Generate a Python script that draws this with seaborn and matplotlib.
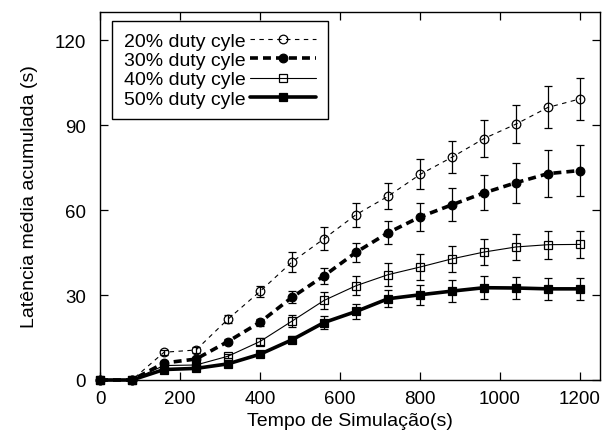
import matplotlib
matplotlib.use("Agg")
import matplotlib.pyplot as plt
import seaborn as sns
import pandas as pd

# ---- data ----
tempo = [0, 80, 160, 240, 320, 400, 480, 560, 640, 720, 800, 880, 960, 1040, 1120, 1200]
labels = ["20% duty cyle", "30% duty cyle", "40% duty cyle", "50% duty cyle"]
dc20 = [0, 0, 9.8, 10.6, 21.5, 31.3, 41.7, 49.9, 58.4, 64.9, 72.6, 78.7, 85.3, 90.4, 96.3, 99.3]
dc30 = [0, 0, 6.0, 7.4, 13.6, 20.4, 29.2, 36.8, 45.1, 52.0, 57.6, 61.9, 66.1, 69.7, 72.9, 74.0]
dc40 = [0, 0, 5.1, 5.3, 8.4, 13.6, 20.8, 28.1, 33.3, 37.2, 39.9, 42.8, 45.2, 47.0, 47.8, 47.9]
dc50 = [0, 0, 3.7, 4.1, 5.7, 9.1, 14.2, 20.3, 24.2, 28.7, 30.1, 31.4, 32.6, 32.5, 32.2, 32.2]
err20 = [0, 0, 0.8, 1.0, 1.3, 1.9, 3.4, 4.1, 4.3, 4.6, 5.3, 5.7, 6.5, 6.7, 7.4, 7.5]
err30 = [0, 0, 0.6, 0.8, 1.0, 1.3, 2.1, 2.8, 3.4, 4.1, 5.1, 5.8, 6.2, 7.0, 8.4, 9.0]
err40 = [0, 0, 0.5, 0.6, 0.8, 1.4, 2.1, 2.9, 3.3, 4.1, 4.6, 4.5, 4.6, 4.7, 4.9, 4.9]
err50 = [0, 0, 0.4, 0.5, 0.6, 0.9, 1.2, 2.3, 2.8, 3.0, 3.5, 3.8, 4.0, 4.0, 4.0, 4.0]
xticks = [0, 200, 400, 600, 800, 1000, 1200]
yticks = [0, 30, 60, 90, 120]

sns.set_theme(style="ticks")
plt.rcParams['font.family'] = ['Liberation Sans', 'DejaVu Sans']
plt.rcParams['text.color'] = 'black'
plt.rcParams['axes.labelcolor'] = 'black'
plt.rcParams['xtick.color'] = 'black'
plt.rcParams['ytick.color'] = 'black'

fig = plt.figure(figsize=(6.04, 4.39), dpi=100)
ax = fig.add_axes([100/604, 1-381/439, 500/604, 368/439])

series = [dc20, dc30, dc40, dc50]
errs = [err20, err30, err40, err50]
styles = [
    dict(linestyle=(0, (4, 4)), linewidth=0.8, marker='o', markerfacecolor='none',
         markeredgecolor='black', markeredgewidth=0.9, markersize=6.2),
    dict(linestyle=(0, (2.2, 1.4)), linewidth=2.6, marker='o', markerfacecolor='black',
         markeredgecolor='black', markeredgewidth=0.9, markersize=6.2),
    dict(linestyle='-', linewidth=0.8, marker='s', markerfacecolor='none',
         markeredgecolor='black', markeredgewidth=0.9, markersize=5.8),
    dict(linestyle='-', linewidth=2.6, marker='s', markerfacecolor='black',
         markeredgecolor='black', markeredgewidth=0.9, markersize=5.8),
]

handles = []
for lab, ys, es, st in zip(labels, series, errs, styles):
    df = pd.DataFrame({"t": tempo, "v": ys})
    sns.lineplot(data=df, x="t", y="v", ax=ax, color="black", label=lab,
                 clip_on=False, zorder=4, **st)
    handles.append(ax.get_lines()[-1])
    ax.errorbar(tempo, ys, yerr=es, fmt='none', ecolor='black', elinewidth=0.9,
                capsize=2.6, capthick=0.9, zorder=3)

ax.set_xlim(0, 1250)
ax.set_ylim(0, 130)
ax.set_xticks(xticks)
ax.set_yticks(yticks)
ax.tick_params(direction='in', length=6, width=0.9, top=True, right=True,
               labelsize=13.5, colors='black')
ax.tick_params(axis='x', pad=7)
ax.tick_params(axis='y', pad=10)
for s in ax.spines.values():
    s.set_linewidth(1.0)
    s.set_color('black')
ax.set_xlabel("Tempo de Simulação(s)", fontsize=14, labelpad=4)
ax.set_ylabel("Latência média acumulada (s)", fontsize=14, labelpad=12)

leg = ax.legend(handles=handles, labels=labels, loc='upper left',
                bbox_to_anchor=(0.024, 0.976), borderaxespad=0, markerfirst=False,
                fontsize=14, handlelength=3.4, labelspacing=0.08, handletextpad=0.25,
                borderpad=0.6, fancybox=False, framealpha=1, edgecolor='black',
                numpoints=1)
leg.get_frame().set_linewidth(1.0)
leg.set_zorder(10)

fig.savefig("out.png", dpi=100)
